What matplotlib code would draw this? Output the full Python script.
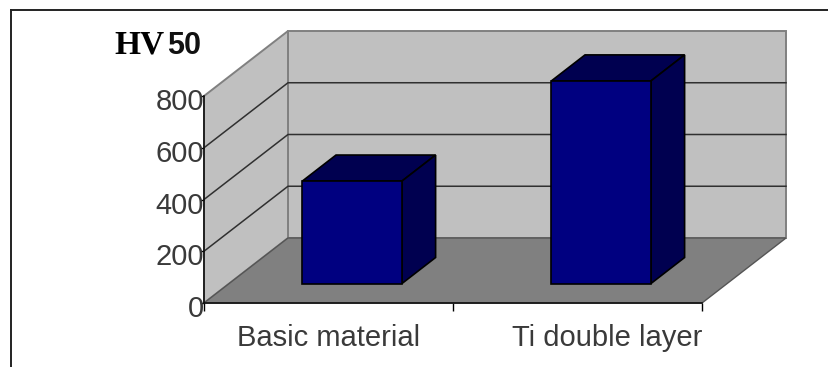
#!/usr/bin/env python3
import matplotlib
matplotlib.use("Agg")
import matplotlib.pyplot as plt
from matplotlib.patches import Polygon
from matplotlib.transforms import ScaledTranslation

categories = ["Basic material", "Ti double layer"]
hardness = [396, 783]
y_ticks = [0, 200, 400, 600, 800]

W, H = 829, 367
WALL = "#c0c0c0"
FLOOR = "#808080"
FRONT = "#000080"
DARK = "#000050"
TEXT = "#3a3a3a"

# oblique depth of the fake 3D box, in data units per unit depth
DX = 84 / 249
DY = 65 / 0.25875


def proj(x, y, z):
    return (x + z * DX, y + z * DY)


def poly(ax, pts, fc, ec, lw=1.0, zorder=1):
    ax.add_patch(Polygon(pts, closed=True, facecolor=fc, edgecolor=ec,
                         linewidth=lw, clip_on=False, zorder=zorder,
                         joinstyle="miter"))


plt.rcParams["font.family"] = ["Liberation Sans", "DejaVu Sans"]
fig = plt.figure(figsize=(W / 100, H / 100), dpi=100)
ax = fig.add_axes([204 / W, 1 - 303 / H, 498 / W, 207 / H])
ax.set_xlim(0, 2)
ax.set_ylim(0, 800)
ax.patch.set_visible(False)

# walls and floor
poly(ax, [proj(0, 0, 1), proj(2, 0, 1), proj(2, 800, 1), proj(0, 800, 1)], WALL, "#808080", 1.4)
poly(ax, [proj(0, 0, 0), proj(0, 0, 1), proj(0, 800, 1), proj(0, 800, 0)], WALL, "#808080", 1.4)
poly(ax, [proj(0, 0, 0), proj(2, 0, 0), proj(2, 0, 1), proj(0, 0, 1)], FLOOR, "#555555", 1.0, zorder=2)

# gridlines run along the side wall and the back wall
for v in y_ticks[1:-1]:
    pts = [proj(0, v, 0), proj(0, v, 1), proj(2, v, 1)]
    ax.plot([p[0] for p in pts], [p[1] for p in pts], color="#303030", lw=1.1,
            clip_on=False, zorder=1.5)

# bars
bar_w = 0.4
z0, z1 = 0.3, 0.7
for i, val in enumerate(hardness):
    c = i + 0.5
    x0, x1 = c - bar_w / 2 - 0.006, c + bar_w / 2 - 0.006
    poly(ax, [proj(x0, 0, z0), proj(x1, 0, z0), proj(x1, val, z0), proj(x0, val, z0)], FRONT, "black", 1.2, zorder=4)
    poly(ax, [proj(x0, val, z0), proj(x1, val, z0), proj(x1, val, z1), proj(x0, val, z1)], DARK, "black", 1.2, zorder=3)
    poly(ax, [proj(x1, 0, z0), proj(x1, 0, z1), proj(x1, val, z1), proj(x1, val, z0)], DARK, "black", 1.2, zorder=3)

# axes
for side in ("top", "right"):
    ax.spines[side].set_visible(False)
for side in ("left", "bottom"):
    ax.spines[side].set_linewidth(1.2)
    ax.spines[side].set_color("#111111")
    ax.spines[side].set_zorder(5)

ax.set_yticks(y_ticks)
ax.tick_params(axis="y", length=3, width=1.0, pad=-3, labelsize=21, labelcolor=TEXT)
for lab in ax.get_yticklabels():
    # labels sit a little below their ticks in the original
    lab.set_transform(lab.get_transform() + ScaledTranslation(0, -3 / 100, fig.dpi_scale_trans))
ax.xaxis.remove_overlapping_locs = False
ax.set_xticks([0, 1, 2])
ax.set_xticklabels([])
ax.tick_params(axis="x", which="major", length=6, width=1.0)
ax.set_xticks([0.5, 2], labels=categories, minor=True)
ax.tick_params(axis="x", which="minor", length=0, pad=15, labelsize=21, labelcolor=TEXT)
ax.xaxis.get_minorticklabels()[1].set_horizontalalignment("right")

# unit label
fig.text(114 / W, 1 - 54 / H, "HV", family="Liberation Serif", weight="bold", fontsize=24, color="black")
fig.text(167 / W, 1 - 54 / H, "50", family="Liberation Sans", weight="bold", fontsize=22, color="#111111")

# outer frame: left and top edges only
fig.add_artist(plt.Line2D([11 / W, 11 / W], [0, 1 - 9.5 / H], color="#222222", lw=1.4))
fig.add_artist(plt.Line2D([11 / W, 1], [1 - 9.5 / H, 1 - 9.5 / H], color="#222222", lw=1.4))

fig.savefig("out.png", dpi=100)
